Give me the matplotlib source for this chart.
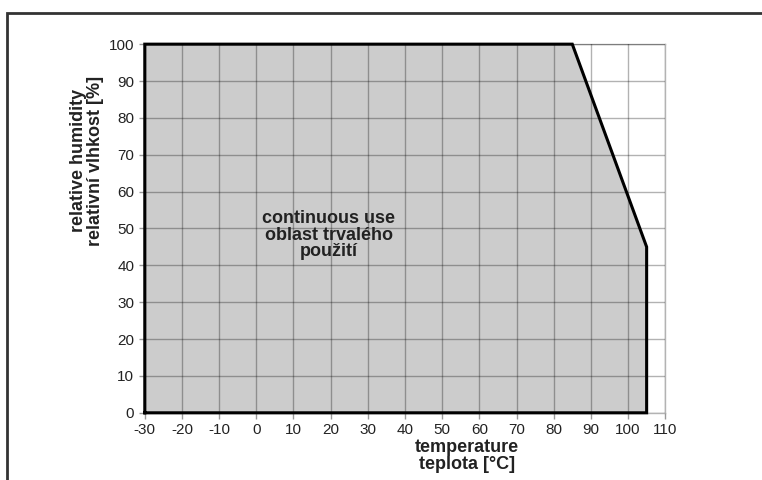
import matplotlib.pyplot as plt
from matplotlib.patches import Rectangle

plt.rcParams['font.family'] = ['Liberation Sans', 'DejaVu Sans']
plt.rcParams['axes.unicode_minus'] = False

# outline of the continuous use area
temp = [-30, -30, 85, 105, 105, -30]
humidity = [0, 100, 100, 45, 0, 0]

x_ticks = list(range(-30, 111, 10))
y_ticks = list(range(0, 101, 10))

fig = plt.figure(figsize=(7.62, 4.8), dpi=100)
ax = fig.add_axes([0.190, 0.140, 0.683, 0.768])

ax.fill(temp, humidity, color='#cccccc', zorder=1)
ax.grid(True, color='black', alpha=0.3, linewidth=1, zorder=2)
ax.set_axisbelow(False)
ax.plot(temp, humidity, color='black', linewidth=2.2, solid_joinstyle='miter', zorder=3, clip_on=False)

ax.set_xlim(-30, 110)
ax.set_ylim(0, 100)
ax.set_xticks(x_ticks)
ax.set_yticks(y_ticks)
for s in ax.spines.values():
    s.set_color('#b3b3b3')
    s.set_linewidth(1)
ax.tick_params(colors='#999999', labelcolor='#222222', labelsize=11, length=4, width=1)

ax.text(19.5, 48.2, 'continuous use\noblast trvalého\npoužití', ha='center', va='center',
        fontsize=13, fontweight='bold', color='#222222', linespacing=0.97)

fig.text(0.613, 0.050, 'temperature\nteplota [°C]', ha='center', va='center',
         fontsize=13, fontweight='bold', color='#222222', linespacing=0.97)
fig.text(0.114, 0.665, 'relative humidity\nrelativní vlhkost [%]', ha='center', va='center',
         rotation=90, fontsize=13, fontweight='bold', color='#222222', linespacing=0.97)

# frame round the picture
fig.patches.append(Rectangle((0.0092, -0.1), 1.2, 1.073, transform=fig.transFigure,
                             fill=False, edgecolor='#333333', linewidth=2))

fig.savefig('out.png', dpi=100)
